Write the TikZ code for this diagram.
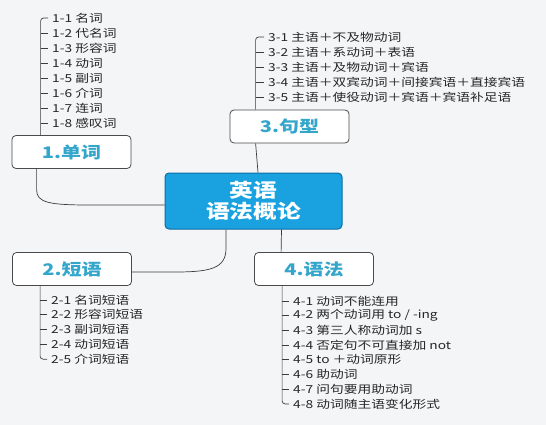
\documentclass[tikz,border=0pt]{standalone}
\usepackage{fontspec}
\newfontfamily\cjk[FakeStretch=1.25]{Noto Sans CJK SC}
\usetikzlibrary{calc}
\definecolor{bgcol}{HTML}{F4F5F7}
\definecolor{boxline}{HTML}{4A4A4A}
\definecolor{labelblue}{HTML}{34A6CB}
\definecolor{centerfill}{HTML}{1AA1E0}
\definecolor{centerline}{HTML}{0D6DA3}
\definecolor{linegray}{HTML}{3C3C3C}

\begin{document}
\begin{tikzpicture}[x=1pt,y=-1pt,
    topic/.style={draw=boxline,fill=white,rounded corners=4pt,line width=0.8pt,minimum width=119pt,minimum height=33pt,text=labelblue,font=\cjk\bfseries\fontsize{16}{18}\selectfont},
    leaf/.style={anchor=west,inner xsep=4pt,inner ysep=1pt,text=black!85,font=\cjk\fontsize{11}{12}\selectfont},
    branch/.style={draw=linegray,line width=0.7pt}]
        \fill[bgcol](0,0)rectangle(546,425);
        \useasboundingbox(0,0)rectangle(546,425);
        % main topics
        \node[draw=centerline,fill=centerfill,rounded corners=4pt,line width=1pt,minimum width=177pt,minimum height=56pt,align=center,text=white,font=\cjk\bfseries\fontsize{19}{21}\selectfont](center)at(253.5,201){英语\\语法概论};
        \node[topic](w)at(71.5,152){1.单词};
        \node[topic](p)at(72,269){2.短语};
        \node[topic](s)at(289.5,126.5){3.句型};
        \node[topic](g)at(314,269){4.语法};
        % leaves
        \foreach \t [count=\i] in {1-1 名词,1-2 代名词,1-3 形容词,1-4 动词,1-5 副词,1-6 介词,1-7 连词,1-8 感叹词}
            \node[leaf](w\i)at(48,{18+15*(\i-1)}){\t};
        \foreach \t [count=\i] in {2-1 名词短语,2-2 形容词短语,2-3 副词短语,2-4 动词短语,2-5 介词短语}
            \node[leaf](p\i)at(47,{300+14.8*(\i-1)}){\t};
        \foreach \t [count=\i] in {3-1 主语＋不及物动词,3-2 主语＋系动词＋表语,3-3 主语＋及物动词＋宾语,3-4 主语＋双宾动词＋间接宾语＋直接宾语,3-5 主语＋使役动词＋宾语＋宾语补足语}
            \node[leaf](s\i)at(264,{37+15*(\i-1)}){\t};
        \foreach \t [count=\i] in {4-1 动词不能连用,4-2 两个动词用 to / -ing,4-3 第三人称动词加 s,4-4 否定句不可直接加 not,4-5 to ＋动词原形,4-6 助动词,4-7 问句要用助动词,4-8 动词随主语变化形式}
            \node[leaf](g\i)at(289,{301+14.7*(\i-1)}){\t};
        % topics to center
        \draw[branch]($(w.south west)+(25,0)$)--++(0,21)..controls++(0,13)and(50,205)..(90,205)--($(center.west)+(0,4)$);
        \draw[branch]($(center.south)+(-27.5,0)$)--++(0,19)..controls++(0,20)and(210,272)..(175,272)--($(p.east)+(0,3)$);
        \draw[branch]($(center.north)+(4.5,0)$)--($(s.south west)+(26,0)$);
        \draw[branch]($(center.south)+(28,0)$)--($(g.north west)+(27,0)$);
        % spines
        \coordinate(wspine)at($(w.north west)+(29,0)$);
        \coordinate(pspine)at($(p.south west)+(28,0)$);
        \coordinate(sspine)at($(s.north west)+(26,0)$);
        \coordinate(gspine)at($(g.south west)+(28,0)$);
        \draw[branch,rounded corners=3pt](wspine)|-(w1.west);
        \draw[branch,rounded corners=3pt](pspine)|-(p5.west);
        \draw[branch,rounded corners=3pt](sspine)|-(s1.west);
        \draw[branch,rounded corners=3pt](gspine)|-(g8.west);
        \foreach \i in {2,...,8}\draw[branch](wspine|-w\i.west)--(w\i.west);
        \foreach \i in {1,...,4}\draw[branch](pspine|-p\i.west)--(p\i.west);
        \foreach \i in {2,...,5}\draw[branch](sspine|-s\i.west)--(s\i.west);
        \foreach \i in {1,...,7}\draw[branch](gspine|-g\i.west)--(g\i.west);
\end{tikzpicture}
\end{document}
